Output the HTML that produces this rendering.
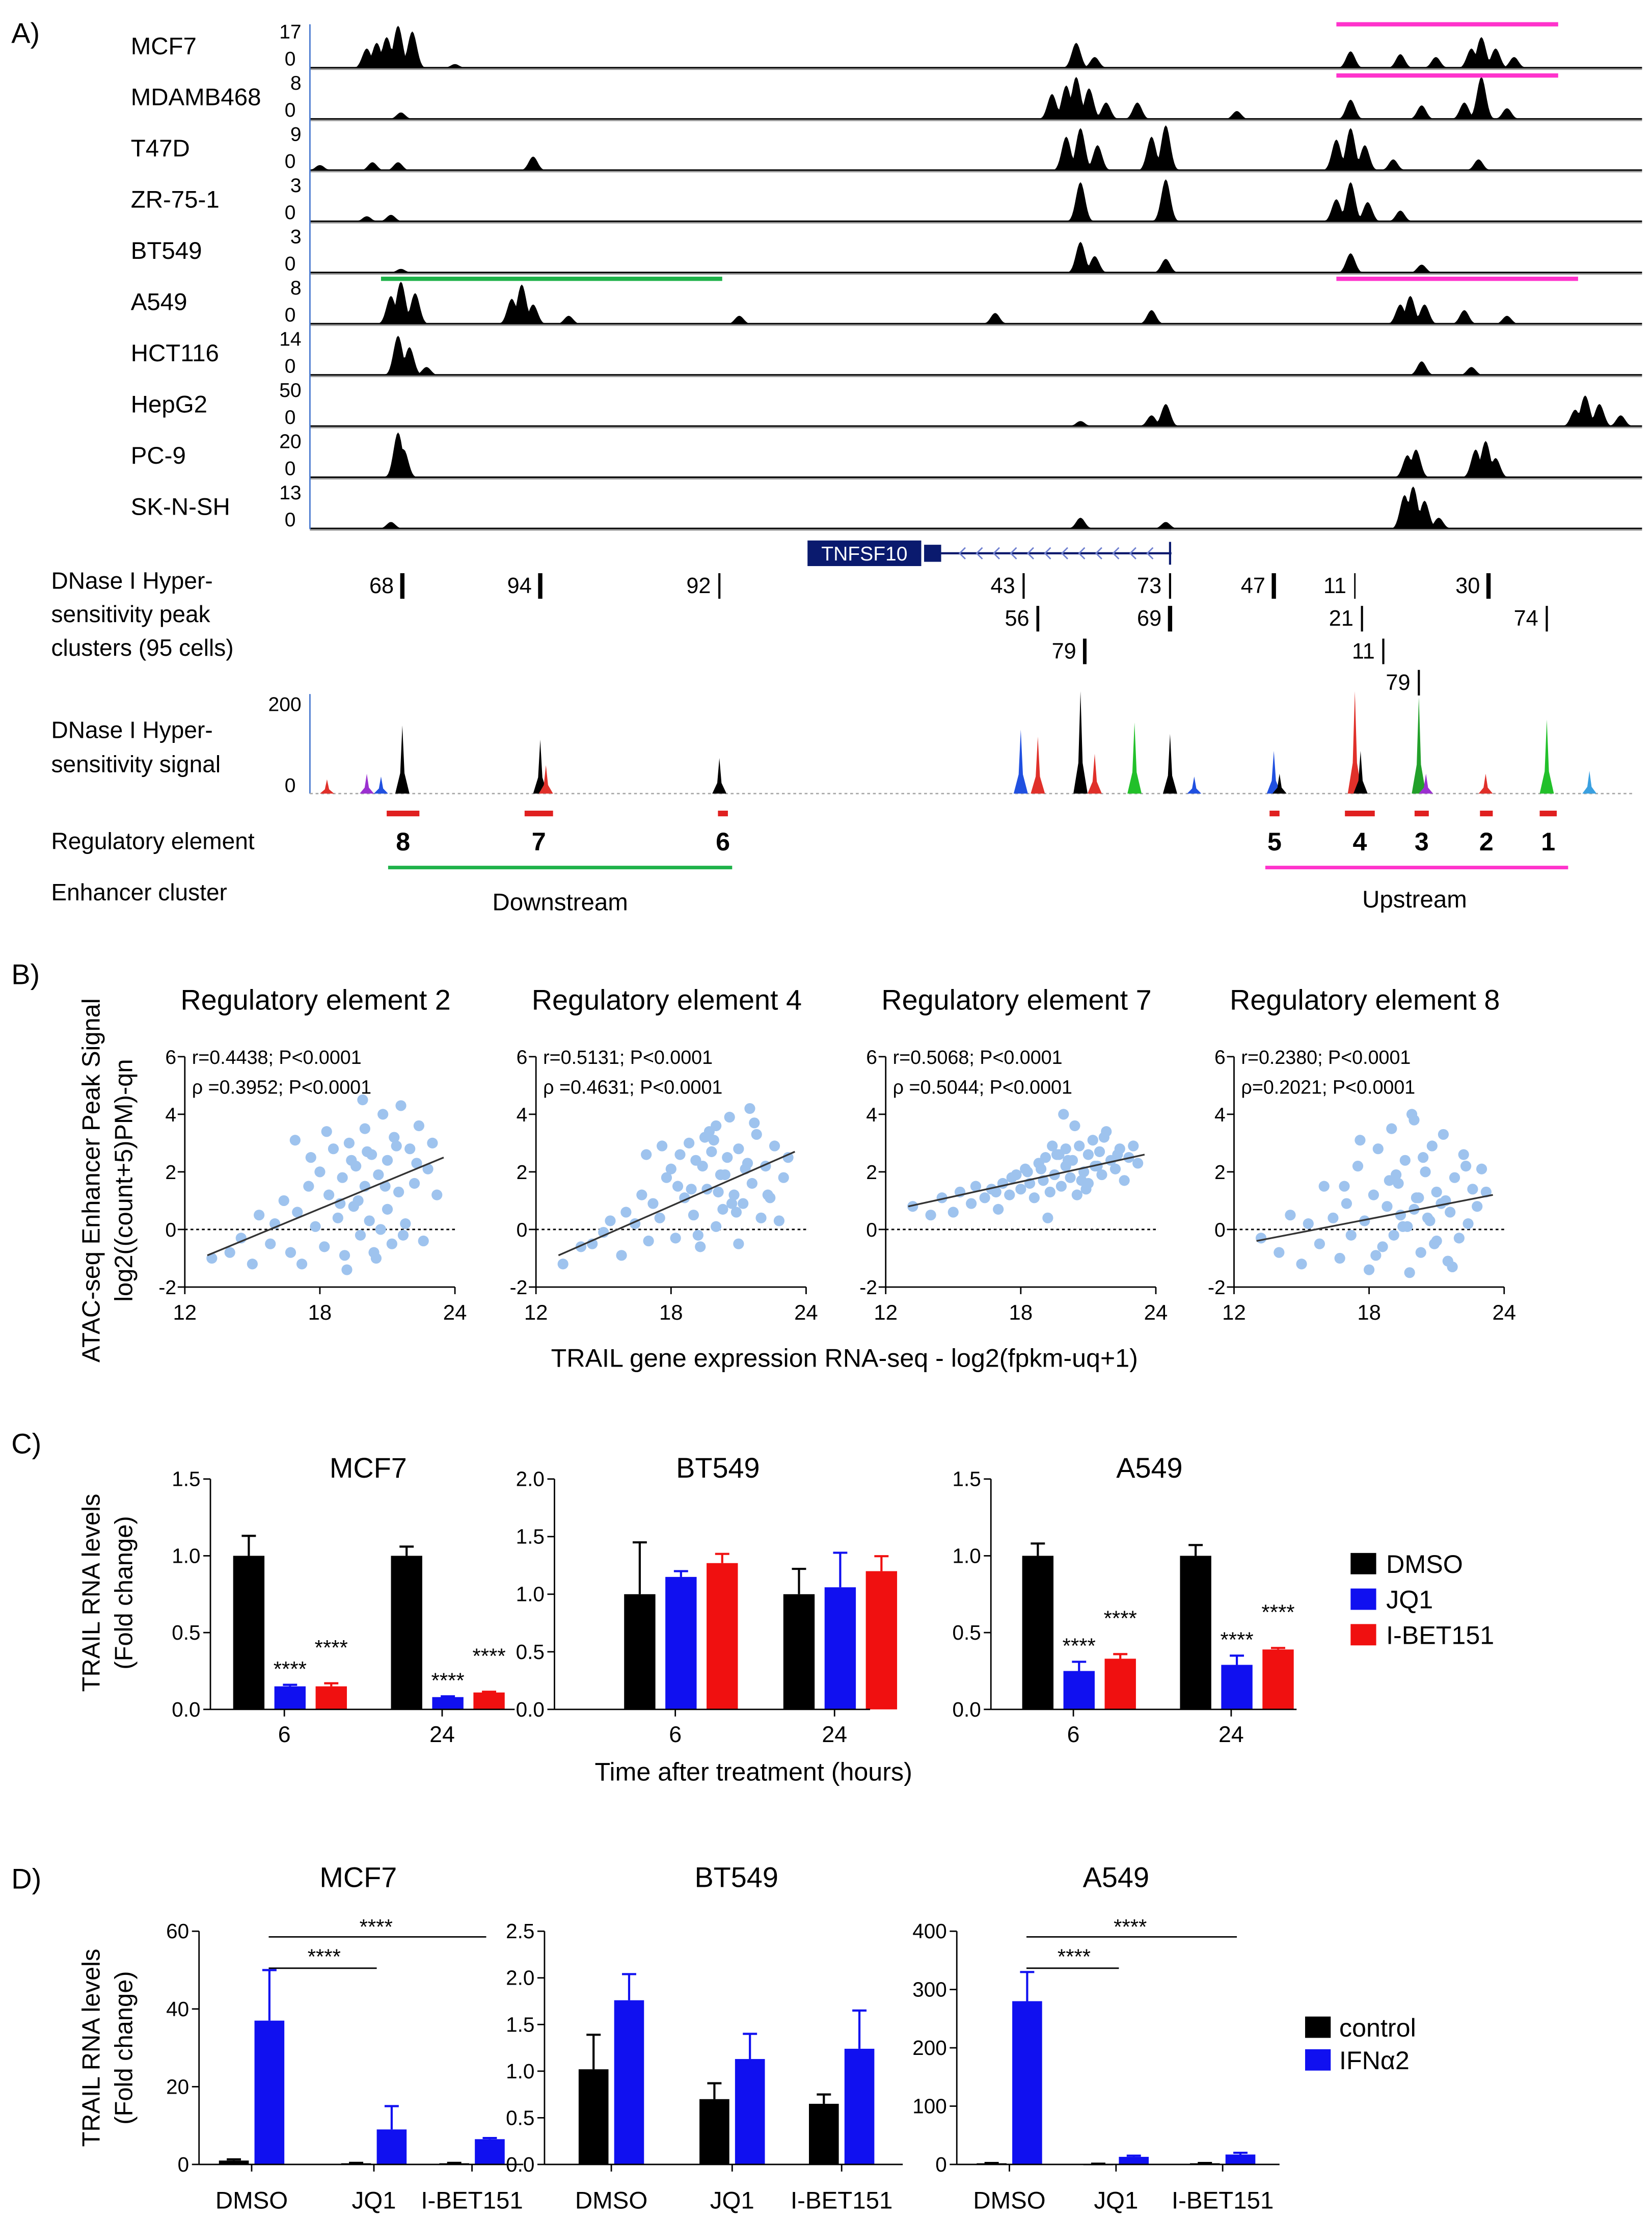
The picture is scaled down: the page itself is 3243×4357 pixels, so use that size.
<!DOCTYPE html>
<html><head><meta charset="utf-8">
<style>
html,body{margin:0;padding:0;background:#fff;}
body{width:3243px;height:4357px;overflow:hidden;}
svg{display:block;font-family:"Liberation Sans",sans-serif;}
</style></head>
<body>
<svg id="fig" xmlns="http://www.w3.org/2000/svg" width="3243" height="4357" viewBox="0 0 1162 1561">
<rect width="1162" height="1561" fill="#fff"/>
<g id="panelA"></g>
<g id="panelB"></g>
<g id="panelC"></g>
<g id="panelD"></g>
</svg>
<script>
// ---------- Panel A data ----------
const trackNames=["MCF7","MDAMB468","T47D","ZR-75-1","BT549","A549","HCT116","HepG2","PC-9","SK-N-SH"];
const trackMax=[17,8,9,3,3,8,14,50,20,13];
const trackPeaks=[
 [[258,14],[265,18],[272,22],[280,30],[290,26],[320,3],[757,18],[770,8],[950,12],[985,10],[1010,8],[1035,14],[1042,22],[1052,14],[1065,8]],
 [[282,5],[740,18],[750,24],[757,30],[766,22],[778,12],[800,12],[870,6],[950,14],[1000,10],[1030,12],[1042,30],[1060,8]],
 [[225,4],[262,6],[280,6],[375,10],[750,24],[760,30],[772,18],[810,24],[820,32],[940,22],[950,30],[960,18],[980,8],[1040,8]],
 [[258,4],[275,5],[760,28],[820,30],[940,16],[950,28],[962,14],[985,8]],
 [[282,3],[760,22],[770,12],[820,10],[950,14],[1000,6]],
 [[275,20],[282,30],[292,22],[360,18],[367,28],[375,14],[400,6],[520,6],[700,8],[810,10],[985,14],[992,20],[1002,14],[1030,10],[1060,6]],
 [[280,28],[288,20],[300,6],[1000,10],[1035,6]],
 [[760,4],[810,8],[820,16],[1108,12],[1115,22],[1125,16],[1140,8]],
 [[280,32],[284,20],[990,16],[996,20],[1038,20],[1045,26],[1052,14]],
 [[275,5],[760,8],[820,5],[988,24],[994,30],[1002,20],[1012,8]]
];
const dhsLabels=["68","94","92","43","73","47","11","30","56","69","21","74","79","11","79"];
const dhsPos=[283,380,506,720,823,896,953,1047,730,823,958,1088,763,973,998];
const dhsRow=[0,0,0,0,0,0,0,0,1,1,1,1,2,2,3];
const dhsWeight=[3,3,1.5,1.5,1.5,3,1,3,2,3,1.5,1.5,2.5,1.5,1.5];
const sigPos=[230,258,268,283,380,384,506,718,730,760,770,798,823,840,896,900,953,957,998,1003,1045,1088,1118];
const sigH=[10,14,12,48,38,20,25,45,40,72,28,50,42,12,30,14,72,30,68,14,14,52,16];
const sigCol=["#e0302a","#9b30d0","#2050e0","#000","#000","#e0302a","#000","#2050e0","#e0302a","#000","#e0302a","#22c02a","#000","#2050e0","#2050e0","#000","#e0302a","#000","#22a02a","#9b30d0","#e0302a","#22c02a","#3aa0e0"];
const regNums=["8","7","6","5","4","3","2","1"];
const regStart=[272,369,505,893,946,995,1041,1083];
const regEnd=[295,389,512,900,967,1005,1050,1095];

const NS="http://www.w3.org/2000/svg";
function mk(parent,tag,attrs,name,txt){const e=document.createElementNS(NS,tag);for(const k in attrs)e.setAttribute(k,attrs[k]);


if(txt!==undefined)e.textContent=txt;parent.appendChild(e);return e;}
const A=document.getElementById('panelA');
mk(A,'text',{x:8,y:30,'font-size':20},'panel-label-a','A)');
const X0=218,X1=1155;
trackNames.forEach((nm,i)=>{
 const base=48+i*36;
 mk(A,'text',{x:92,y:base-10,'font-size':17},'track-label-'+nm.toLowerCase(),nm);
 mk(A,'text',{x:212,y:base-21,'font-size':14,'text-anchor':'end'},'track-max-'+i,String(trackMax[i]));
 mk(A,'text',{x:208,y:base-2,'font-size':14,'text-anchor':'end'},'track-zero-'+i,'0');
 mk(A,'line',{x1:X0,y1:base+0.5,x2:X1,y2:base+0.5,stroke:'#999','stroke-width':1.2},'track-baseline-'+i);
 let d='M'+X0+' '+base;
 for(let x=X0;x<=X1;x++){let h=1;trackPeaks[i].forEach(p=>{const v=p[1]*Math.exp(-Math.pow((x-p[0])/4.5,2));if(v>h)h=v;});d+=' L'+x+' '+(base-h).toFixed(1);}
 d+=' L'+X1+' '+base+' Z';
 mk(A,'path',{d:d,fill:'#000'},'track-signal-'+nm.toLowerCase());
});
mk(A,'line',{x1:218,y1:17,x2:218,y2:372,stroke:'#4a7ad0','stroke-width':1},'track-axis');
mk(A,'line',{x1:940,y1:17,x2:1096,y2:17,stroke:'#ff33cc','stroke-width':3},'mcf7-upstream-bar');
mk(A,'line',{x1:940,y1:53,x2:1096,y2:53,stroke:'#ff33cc','stroke-width':3},'mdamb468-upstream-bar');
mk(A,'line',{x1:268,y1:196,x2:508,y2:196,stroke:'#1fb24a','stroke-width':3},'a549-downstream-bar');
mk(A,'line',{x1:940,y1:196,x2:1110,y2:196,stroke:'#ff33cc','stroke-width':3},'a549-upstream-bar');
mk(A,'rect',{x:568,y:380,width:80,height:18,fill:'#0a1a6e'},'tnfsf10-gene-box');
mk(A,'text',{x:608,y:394,'font-size':14,fill:'#fff','text-anchor':'middle'},'tnfsf10-label','TNFSF10');
mk(A,'rect',{x:650,y:383,width:12,height:12,fill:'#0a1a6e'},'tnfsf10-exon');
mk(A,'line',{x1:662,y1:389,x2:824,y2:389,stroke:'#0a1a6e','stroke-width':1.5},'tnfsf10-intron');
mk(A,'line',{x1:823,y1:381,x2:823,y2:397,stroke:'#0a1a6e','stroke-width':1.5},'tnfsf10-end');
let arr='';for(let x=675;x<818;x+=12){arr+='M'+(x+4)+' 385 L'+x+' 389 L'+(x+4)+' 393 ';}
mk(A,'path',{d:arr,stroke:'#7080d0',fill:'none','stroke-width':1},'tnfsf10-arrows');
['DNase I Hyper-','sensitivity peak','clusters (95 cells)'].forEach((t,k)=>mk(A,'text',{x:36,y:414+k*23.5,'font-size':16.5},'dhs-cluster-title-'+k,t));
dhsLabels.forEach((l,i)=>{const y=[412,435,458,480][dhsRow[i]];
 mk(A,'text',{x:dhsPos[i]-6,y:y+5,'font-size':15.5,'text-anchor':'end'},'dhs-cluster-label-'+i,l);
 mk(A,'line',{x1:dhsPos[i],y1:y-9,x2:dhsPos[i],y2:y+9,stroke:'#000','stroke-width':dhsWeight[i]},'dhs-cluster-bar-'+i);});
['DNase I Hyper-','sensitivity signal'].forEach((t,k)=>mk(A,'text',{x:36,y:519+k*24,'font-size':16.5},'dhs-signal-title-'+k,t));
mk(A,'line',{x1:218,y1:488,x2:218,y2:558,stroke:'#4a7ad0','stroke-width':1},'dhs-signal-axis');
mk(A,'text',{x:212,y:500,'font-size':14,'text-anchor':'end'},'dhs-signal-max','200');
mk(A,'text',{x:208,y:557,'font-size':14,'text-anchor':'end'},'dhs-signal-zero','0');
mk(A,'line',{x1:218,y1:558,x2:1150,y2:558,stroke:'#aaa','stroke-width':1,'stroke-dasharray':'2 2'},'dhs-signal-baseline');
sigPos.forEach((p,i)=>{const h=sigH[i];
 mk(A,'path',{d:`M${p-5} 558 L${p-1.5} ${558-h*0.3} L${p} ${558-h} L${p+1.5} ${558-h*0.3} L${p+5} 558 Z`,fill:sigCol[i]},'dhs-signal-peak-'+i);});
mk(A,'text',{x:36,y:597,'font-size':16.5},'regulatory-element-title','Regulatory element');
mk(A,'text',{x:36,y:633,'font-size':16.5},'enhancer-cluster-title','Enhancer cluster');
regNums.forEach((n,i)=>{mk(A,'line',{x1:regStart[i],y1:572,x2:regEnd[i],y2:572,stroke:'#e02020','stroke-width':4},'reg-element-bar-'+n);
 mk(A,'text',{x:(regStart[i]+regEnd[i])/2,y:598,'font-size':18,'font-weight':'bold','text-anchor':'middle'},'reg-element-number-'+n,n);});
mk(A,'line',{x1:273,y1:610,x2:515,y2:610,stroke:'#1fb24a','stroke-width':2.5},'downstream-cluster-line');
mk(A,'text',{x:394,y:640,'font-size':17,'text-anchor':'middle'},'downstream-label','Downstream');
mk(A,'line',{x1:890,y1:610,x2:1103,y2:610,stroke:'#ff33cc','stroke-width':2.5},'upstream-cluster-line');
mk(A,'text',{x:995,y:638,'font-size':17,'text-anchor':'middle'},'upstream-label','Upstream');

// ---------- Panel B data ----------
const scatTitles=["Regulatory element 2","Regulatory element 4","Regulatory element 7","Regulatory element 8"];
const scatR=["r=0.4438; P<0.0001","r=0.5131; P<0.0001","r=0.5068; P<0.0001","r=0.2380; P<0.0001"];
const scatRho=["ρ =0.3952; P<0.0001","ρ =0.4631; P<0.0001","ρ =0.5044; P<0.0001","ρ=0.2021; P<0.0001"];
const fitStart=[-0.9,-0.9,0.8,-0.4];
const fitEnd=[2.5,2.7,2.6,1.2];
const scatX=[13.2,14,14.5,15,15.3,15.8,16,16.4,16.7,17,17.2,17.5,17.8,18,18.2,18.4,18.6,18.8,19,19.1,19.3,19.5,19.6,19.8,20,20,20.2,20.3,20.5,20.6,20.8,21,21,21.2,21.3,21.5,21.6,21.8,22,22.2,22.4,22.6,22.8,23,23.2,17.6,18.3,19.2,19.7,20.4,20.9,21.4,19.9,20.7,18.9,21.7,22.3,16.9,19.4,20.1];
const ys1=[-1,-0.8,-0.3,-1.2,0.5,-0.5,0.2,1,-0.8,0.6,-1.2,1.5,0.1,2,-0.6,1.2,2.8,0.4,1.8,-0.9,3,0.8,2.2,-0.2,1.5,3.5,0.3,2.6,-1,1.9,4,0.7,2.4,-0.5,3.2,1.3,4.3,0.2,2.8,1.6,3.6,-0.4,2.1,3,1.2,2.5,3.4,-1.4,1,-0.8,1.5,2.9,4.5,0,0.9,-0.2,2.3,3.1,2.4,2.7];
const ys2=[-1.2,-0.6,-0.5,-0.1,0.3,-0.9,0.6,0.2,1.2,-0.4,0.9,0.4,1.8,2.1,-0.3,2.6,1.1,3,0.5,2.4,-0.6,3.2,1.4,2.7,0.1,3.6,1.9,0.7,2.5,3.9,1.2,-0.5,2.8,0.9,2.1,4.2,1.6,3.3,0.4,2.2,1.1,2.9,0.3,1.8,2.5,2.9,1.5,-0.2,3.4,1.9,0.6,2.3,3.1,0.9,1.4,3.7,1.2,2.6,2.2,1.3];
const ys3=[0.8,0.5,1.1,0.6,1.3,0.9,1.5,1.1,1.4,0.7,1.6,1.2,1.9,1.4,2.1,1.6,1.1,2.3,1.7,2.5,1.3,1.9,2.6,1.5,2.2,2.8,1.8,2.4,1.2,2.9,2,2.6,1.6,3.1,2.2,2.7,1.9,3.4,2.4,2.1,2.8,1.7,2.5,2.9,2.3,1.8,2.0,0.4,2.6,3.6,1.4,2.2,4,1.7,2.1,3.2,2.6,1.3,2.9,2.4];
const ys4=[-0.3,-0.8,0.5,-1.2,0.2,-0.5,1.5,0.4,-1,0.9,-0.2,2.2,0.3,-1.4,1.2,2.8,-0.6,0.8,3.5,-0.2,1.6,0.1,2.4,-1.5,0.7,3.8,1.1,-0.8,2,0.4,2.9,-0.4,1.3,0.9,3.3,-1.1,0.6,1.8,-0.3,2.6,0.2,1.4,0.8,2.1,1.3,3.1,-0.9,1.9,0.1,2.5,-0.5,1,4,0.3,1.7,-1.3,2.2,1.5,0.5,1.1];
const scatY=[ys1,ys2,ys3,ys4];
const yTicksB=[6,4,2,0,-2];
const xTicksB=[12,18,24];

const B=document.getElementById('panelB');
mk(B,'text',{x:8,y:692,'font-size':20},'panel-label-b','B)');
const bLeft=[130,377,623,868];
scatTitles.forEach((t,i)=>{
 const L=bLeft[i],W=190,T=743,Bt=905;
 const sx=v=>L+(v-12)/12*W, sy=v=>Bt-(v+2)/8*(Bt-T);
 const g=mk(B,'g',{},'scatter-plot-'+(i+1));
 mk(g,'text',{x:L+92,y:710,'font-size':20,'text-anchor':'middle'},'scatter-title-'+(i+1),t);
 mk(g,'line',{x1:sx(12),y1:sy(0),x2:sx(24),y2:sy(0),stroke:'#000','stroke-width':1,'stroke-dasharray':'2 2'},'zero-line');
 scatX.forEach((x,k)=>{mk(g,'circle',{cx:sx(x),cy:sy(scatY[i][k]),r:3.8,fill:'#9ec3ee'},'scatter-point');});
 mk(g,'line',{x1:sx(13),y1:sy(fitStart[i]),x2:sx(23.5),y2:sy(fitEnd[i]),stroke:'#333','stroke-width':1.2},'regression-line');
 mk(g,'line',{x1:L,y1:T,x2:L,y2:Bt,stroke:'#000','stroke-width':1},'y-axis');
 mk(g,'line',{x1:L,y1:Bt,x2:L+W,y2:Bt,stroke:'#000','stroke-width':1},'x-axis');
 yTicksB.forEach(v=>{mk(g,'line',{x1:L-5,y1:sy(v),x2:L,y2:sy(v),stroke:'#000'},'y-tick');
  mk(g,'text',{x:L-6,y:sy(v)+5,'font-size':14,'text-anchor':'end'},'y-tick-label',String(v));});
 xTicksB.forEach(v=>{mk(g,'line',{x1:sx(v),y1:Bt,x2:sx(v),y2:Bt+5,stroke:'#000'},'x-tick');
  mk(g,'text',{x:sx(v),y:Bt+23,'font-size':15,'text-anchor':'middle'},'x-tick-label',String(v));});
 mk(g,'text',{x:L+5,y:748,'font-size':13.5},'pearson-annotation',scatR[i]);
 mk(g,'text',{x:L+5,y:769,'font-size':13.5},'spearman-annotation',scatRho[i]);
});
mk(B,'text',{x:70,y:830,'font-size':17.5,'text-anchor':'middle',transform:'rotate(-90 70 830)'},'y-axis-title-line1','ATAC-seq Enhancer Peak Signal');
mk(B,'text',{x:93,y:830,'font-size':17.5,'text-anchor':'middle',transform:'rotate(-90 93 830)'},'y-axis-title-line2','log2((count+5)PM)-qn');
mk(B,'text',{x:594,y:961,'font-size':18,'text-anchor':'middle'},'x-axis-title','TRAIL gene expression RNA-seq - log2(fpkm-uq+1)');

// ---------- Panel C data ----------
const cTitles=["MCF7","BT549","A549"];
const cMax=[1.5,2.0,1.5];
const cTicks=[[0,0.5,1.0,1.5],[0,0.5,1.0,1.5,2.0],[0,0.5,1.0,1.5]];
const cTimes=["6","24"];
const cDMSO=[[1.0,1.0],[1.0,1.0],[1.0,1.0]];
const cDMSOerr=[[0.13,0.06],[0.45,0.22],[0.08,0.07]];
const cJQ1=[[0.15,0.08],[1.15,1.06],[0.25,0.29]];
const cJQ1err=[[0.01,0.005],[0.05,0.3],[0.06,0.06]];
const cIBET=[[0.15,0.11],[1.27,1.2],[0.33,0.39]];
const cIBETerr=[[0.02,0.005],[0.08,0.13],[0.03,0.01]];
const cStars=[true,false,true];
const C=document.getElementById('panelC');
mk(C,'text',{x:8,y:1022,'font-size':20},'panel-label-c','C)');
const cAx=[148,390,697],cAxEnd=[362,612,912];
const cGroupCenters=[[200,311],[475,587],[755,866]];
const colors=["#000","#1010f0","#f01010"];
function errBar(g,x,y1,y2,col){mk(g,'line',{x1:x,y1:y1,x2:x,y2:y2,stroke:col,'stroke-width':1.5},'error-bar');mk(g,'line',{x1:x-5,y1:y2,x2:x+5,y2:y2,stroke:col,'stroke-width':1.5},'error-cap');}
cTitles.forEach((t,i)=>{
 const g=mk(C,'g',{},'bar-chart-c-'+t.toLowerCase());
 const Y0=1202,YT=1040,sy=v=>Y0-v/cMax[i]*(Y0-YT);
 mk(g,'text',{x:(cAx[i]+cAxEnd[i])/2+4,y:1039,'font-size':20,'text-anchor':'middle'},'chart-title',t);
 cTimes.forEach((tm,j)=>{const c=cGroupCenters[i][j];
  [cDMSO,cJQ1,cIBET].forEach((ser,s)=>{const v=ser[i][j],e=[cDMSOerr,cJQ1err,cIBETerr][s][i][j];const x=c-36+s*29;
   errBar(g,x+11,sy(v),sy(v+e),colors[s]);
   mk(g,'rect',{x:x,y:sy(v),width:22,height:Y0-sy(v),fill:colors[s]},'bar-'+['dmso','jq1','ibet151'][s]+'-'+tm+'h');
   if(s>0&&cStars[i]) mk(g,'text',{x:x+11,y:sy(v+e)-6-(s==2?14:0),'font-size':15,'text-anchor':'middle'},'significance-stars','****');
  });
  mk(g,'line',{x1:c,y1:Y0,x2:c,y2:Y0+5,stroke:'#000'},'x-tick');
  mk(g,'text',{x:c,y:1225,'font-size':16,'text-anchor':'middle'},'x-tick-label',tm);
 });
 mk(g,'line',{x1:cAx[i],y1:YT,x2:cAx[i],y2:Y0,stroke:'#000'},'y-axis');
 mk(g,'line',{x1:cAx[i],y1:Y0,x2:cAxEnd[i],y2:Y0,stroke:'#000'},'x-axis');
 cTicks[i].forEach(v=>{mk(g,'line',{x1:cAx[i]-5,y1:sy(v),x2:cAx[i],y2:sy(v),stroke:'#000'},'y-tick');
  mk(g,'text',{x:cAx[i]-7,y:sy(v)+5,'font-size':14.5,'text-anchor':'end'},'y-tick-label',v.toFixed(1));});
});
mk(C,'text',{x:70,y:1120,'font-size':17.5,'text-anchor':'middle',transform:'rotate(-90 70 1120)'},'y-axis-title-c1','TRAIL RNA levels');
mk(C,'text',{x:93,y:1120,'font-size':17.5,'text-anchor':'middle',transform:'rotate(-90 93 1120)'},'y-axis-title-c2','(Fold change)');
mk(C,'text',{x:530,y:1252,'font-size':18,'text-anchor':'middle'},'x-axis-title-c','Time after treatment (hours)');
["DMSO","JQ1","I-BET151"].forEach((l,k)=>{mk(C,'rect',{x:950,y:1092+k*25,width:18,height:15,fill:colors[k]},'legend-swatch-'+l.toLowerCase());
 mk(C,'text',{x:975,y:1106+k*25,'font-size':18},'legend-entry-'+l.toLowerCase(),l);});

// ---------- Panel D data ----------
const dTitles=["MCF7","BT549","A549"];
const dCats=["DMSO","JQ1","I-BET151"];
const dMax=[60,2.5,400];
const dTicks=[[0,20,40,60],[0,0.5,1.0,1.5,2.0,2.5],[0,100,200,300,400]];
const dCtrl=[[1.0,0.3,0.3],[1.02,0.7,0.65],[2,1,2]];
const dCtrlErr=[[0.3,0.1,0.1],[0.37,0.17,0.1],[0.5,0.3,0.5]];
const dIFN=[[37,9,6.5],[1.76,1.13,1.24],[280,13,17]];
const dIFNerr=[[13,6,0.3],[0.28,0.27,0.41],[50,2,3]];
const D=document.getElementById('panelD');
mk(D,'text',{x:8,y:1328,'font-size':20},'panel-label-d','D)');
const dAx=[140,383,673],dAxEnd=[368,635,900];
const dCenters=[[177,263,332],[430,515,592],[710,785,860]];
const dCol=["#000","#1010f0"];
dTitles.forEach((t,i)=>{
 const g=mk(D,'g',{},'bar-chart-d-'+t.toLowerCase());
 const Y0=1522,YT=1358,sy=v=>Y0-v/dMax[i]*(Y0-YT);
 mk(g,'text',{x:[252,518,785][i],y:1327,'font-size':20,'text-anchor':'middle'},'chart-title',t);
 dCats.forEach((cat,j)=>{const c=dCenters[i][j];
  [[dCtrl,dCtrlErr],[dIFN,dIFNerr]].forEach((ser,s)=>{const v=ser[0][i][j],e=ser[1][i][j];const x=s==0?c-23:c+2;
   errBar(g,x+10.5,sy(v),sy(v+e),dCol[s]);
   mk(g,'rect',{x:x,y:sy(v),width:21,height:Math.max(1,Y0-sy(v)),fill:dCol[s]},'bar-'+['control','ifna2'][s]+'-'+cat.toLowerCase());});
  mk(g,'line',{x1:c,y1:Y0,x2:c,y2:Y0+5,stroke:'#000'},'x-tick');
  mk(g,'text',{x:c,y:1553,'font-size':17,'text-anchor':'middle'},'x-tick-label',cat);
 });
 mk(g,'line',{x1:dAx[i],y1:YT,x2:dAx[i],y2:Y0,stroke:'#000'},'y-axis');
 mk(g,'line',{x1:dAx[i],y1:Y0,x2:dAxEnd[i],y2:Y0,stroke:'#000'},'x-axis');
 dTicks[i].forEach(v=>{mk(g,'line',{x1:dAx[i]-5,y1:sy(v),x2:dAx[i],y2:sy(v),stroke:'#000'},'y-tick');
  mk(g,'text',{x:dAx[i]-7,y:sy(v)+5,'font-size':14.5,'text-anchor':'end'},'y-tick-label',i==1?v.toFixed(1):String(v));});
 if(i!=1){const c=dCenters[i];
  mk(g,'line',{x1:c[0]+12,y1:1362,x2:c[2]+10,y2:1362,stroke:'#000'},'significance-bracket-ibet');
  mk(g,'text',{x:(c[0]+c[2])/2+10,y:1360,'font-size':15,'text-anchor':'middle'},'significance-stars','****');
  mk(g,'line',{x1:c[0]+12,y1:1384,x2:c[1]+2,y2:1384,stroke:'#000'},'significance-bracket-jq1');
  mk(g,'text',{x:(c[0]+c[1])/2+8,y:1381,'font-size':15,'text-anchor':'middle'},'significance-stars','****');}
});
mk(D,'text',{x:70,y:1440,'font-size':17.5,'text-anchor':'middle',transform:'rotate(-90 70 1440)'},'y-axis-title-d1','TRAIL RNA levels');
mk(D,'text',{x:93,y:1440,'font-size':17.5,'text-anchor':'middle',transform:'rotate(-90 93 1440)'},'y-axis-title-d2','(Fold change)');
["control","IFNα2"].forEach((l,k)=>{mk(D,'rect',{x:918,y:1418+k*23,width:18,height:15,fill:dCol[k]},'legend-swatch-'+k);
 mk(D,'text',{x:942,y:1432+k*23,'font-size':18},'legend-entry-'+k,l);});
</script>
</body></html>
